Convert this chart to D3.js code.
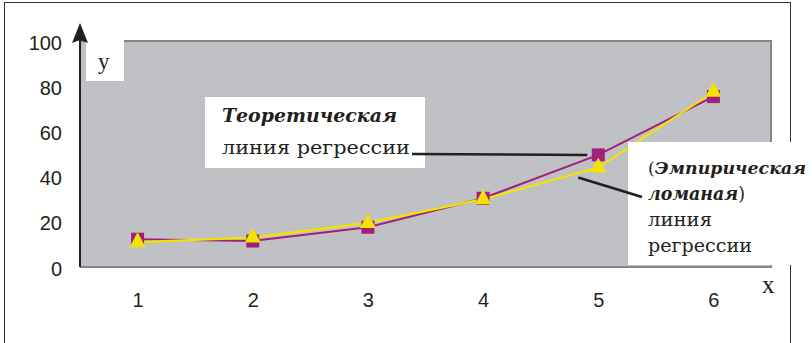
<!DOCTYPE html>
<html>
<head>
<meta charset="utf-8">
<script src="https://cdn.jsdelivr.net/npm/d3@7"></script>
<style>
  body { margin: 0; background: #fff; }
  svg { display: block; }
</style>
</head>
<body>
<svg id="chart"></svg>
<script>
var categories = [1, 2, 3, 4, 5, 6];
var theoretical = [12.3, 11.5, 17.6, 30.4, 49.6, 75.4];
var empirical = [11, 13, 19.5, 30, 44, 77.5];
var yTicks = [0, 20, 40, 60, 80, 100];

var width = 812, height = 343;
var plotLeft = 80, plotRight = 771, plotTop = 41, plotBottom = 267;
var purple = "#a0207a", yellow = "#f2e400", ink = "#231f20";
var serif = "'Liberation Serif', 'Times New Roman', serif";
var cyr = "'DejaVu Serif', serif";
var sans = "'Liberation Sans', Arial, sans-serif";

var svg = d3.select("#chart")
    .attr("width", width)
    .attr("height", height);

var x = d3.scalePoint()
    .domain(categories)
    .range([plotLeft, plotRight])
    .padding(0.5);

var y = d3.scaleLinear()
    .domain([0, 100])
    .range([plotBottom, plotTop]);

// outer frame
svg.append("rect")
    .attr("x", 4.5).attr("y", 2.5)
    .attr("width", 786).attr("height", 350)
    .attr("fill", "none")
    .attr("stroke", "#333")
    .attr("stroke-width", 1);

// plot area
svg.append("rect")
    .attr("x", plotLeft).attr("y", plotTop)
    .attr("width", plotRight - plotLeft).attr("height", plotBottom - plotTop)
    .attr("fill", "#c0c1c5");
svg.append("path")
    .attr("d", "M" + plotLeft + "," + plotTop + "H" + plotRight + "V" + plotBottom + "H" + plotLeft)
    .attr("fill", "none")
    .attr("stroke", "#85868a")
    .attr("stroke-width", 2);

// y label box
svg.append("rect")
    .attr("x", 86).attr("y", 40)
    .attr("width", 38).attr("height", 41)
    .attr("fill", "#fff");
svg.append("text")
    .attr("x", 98).attr("y", 69)
    .attr("font-family", serif)
    .attr("font-size", 23)
    .attr("fill", ink)
    .text("y");

// y axis ticks
var yAxis = svg.append("g")
    .attr("transform", "translate(" + plotLeft + ",0)")
    .call(d3.axisLeft(y).tickValues(yTicks).tickSize(0).tickPadding(18));
yAxis.select(".domain").remove();
yAxis.selectAll("text")
    .attr("font-family", sans)
    .attr("font-size", 20)
    .attr("fill", ink)
    .attr("dy", "0.4em");

// x axis ticks
var xAxis = svg.append("g")
    .attr("transform", "translate(0," + plotBottom + ")")
    .call(d3.axisBottom(x).tickSize(0).tickPadding(26));
xAxis.select(".domain").remove();
xAxis.selectAll("text")
    .attr("font-family", sans)
    .attr("font-size", 20)
    .attr("fill", ink);

svg.append("text")
    .attr("x", 762).attr("y", 293)
    .attr("font-family", serif)
    .attr("font-size", 25)
    .attr("fill", ink)
    .text("x");

// y axis line with arrow
svg.append("line")
    .attr("x1", plotLeft).attr("x2", plotLeft)
    .attr("y1", plotBottom).attr("y2", 36)
    .attr("stroke", ink)
    .attr("stroke-width", 2);
svg.append("path")
    .attr("d", "M" + plotLeft + ",23L" + (plotLeft + 8) + ",43L" + plotLeft + ",40L" + (plotLeft - 8) + ",43Z")
    .attr("fill", ink);

// lines
var line = d3.line()
    .x(function(d, i) { return x(categories[i]); })
    .y(function(d) { return y(d); });

svg.append("path")
    .datum(theoretical)
    .attr("d", line)
    .attr("fill", "none")
    .attr("stroke", purple)
    .attr("stroke-width", 2);

svg.append("path")
    .datum(empirical)
    .attr("d", line)
    .attr("fill", "none")
    .attr("stroke", yellow)
    .attr("stroke-width", 2.2);

// markers
svg.selectAll(".sq")
    .data(theoretical)
    .enter().append("rect")
    .attr("class", "sq")
    .attr("x", function(d, i) { return x(categories[i]) - 6.5; })
    .attr("y", function(d) { return y(d) - 6.5; })
    .attr("width", 13).attr("height", 13)
    .attr("fill", purple);

svg.selectAll(".tri")
    .data(empirical)
    .enter().append("path")
    .attr("class", "tri")
    .attr("d", function(d, i) {
      var cx = x(categories[i]), cy = y(d);
      return "M" + cx + "," + (cy - 10) + "L" + (cx + 8) + "," + (cy + 5) + "L" + (cx - 8) + "," + (cy + 5) + "Z";
    })
    .attr("fill", yellow);

// helper for the cyrillic labels: fixed width so the serif fallback fits
function label(xp, yp, w, fs) {
  return svg.append("text")
    .attr("x", xp).attr("y", yp)
    .attr("font-family", cyr)
    .attr("font-size", fs || 19)
    .attr("fill", ink)
    .attr("textLength", w)
    .attr("lengthAdjust", "spacingAndGlyphs");
}

// label: theoretical
svg.append("rect")
    .attr("x", 205).attr("y", 97)
    .attr("width", 220).attr("height", 71)
    .attr("fill", "#fff");
label(222, 122, 175)
    .attr("font-weight", "bold")
    .attr("font-style", "italic")
    .text("Теоретическая");
label(222, 154, 188).text("линия регрессии");
svg.append("line")
    .attr("x1", 412).attr("y1", 154)
    .attr("x2", x(5) - 11).attr("y2", y(theoretical[4]))
    .attr("stroke", ink)
    .attr("stroke-width", 2.5);

// label: empirical
svg.append("rect")
    .attr("x", 628).attr("y", 142)
    .attr("width", 184).attr("height", 123)
    .attr("fill", "#fff");
var t2 = label(648, 174, 158, 17);
t2.append("tspan").text("(");
t2.append("tspan").attr("font-weight", "bold").attr("font-style", "italic").text("Эмпирическая");
var t3 = label(648, 200, 97, 18);
t3.append("tspan").attr("font-weight", "bold").attr("font-style", "italic").text("ломаная");
t3.append("tspan").text(")");
label(648, 226, 64).text("линия");
label(648, 252, 104).text("регрессии");
svg.append("line")
    .attr("x1", x(5) - 20).attr("y1", y(empirical[4]) + 10)
    .attr("x2", 642).attr("y2", 197)
    .attr("stroke", ink)
    .attr("stroke-width", 2.5);
</script>
</body>
</html>
